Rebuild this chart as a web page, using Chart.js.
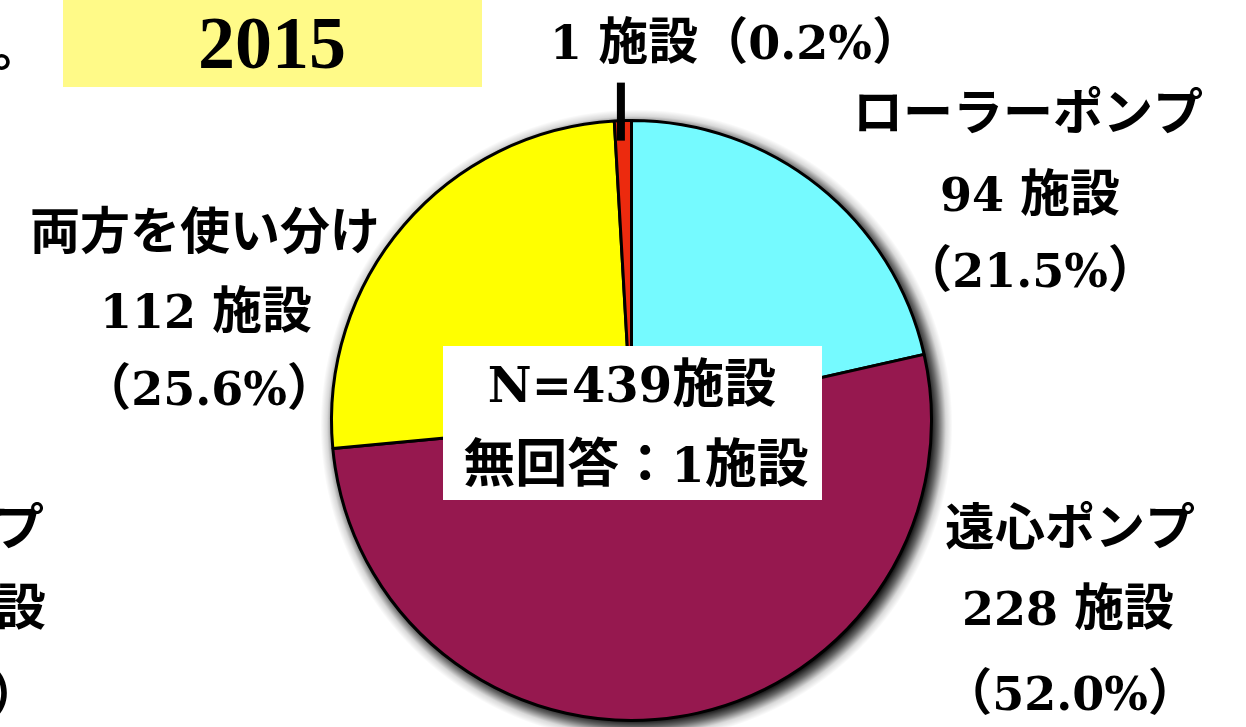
<!DOCTYPE html>
<html>
<head>
<meta charset="utf-8">
<script src="https://cdn.jsdelivr.net/npm/chart.js@4.4.0/dist/chart.umd.min.js"></script>
<style>
  html, body { margin: 0; padding: 0; background: #fff; }
  #wrap { position: relative; width: 1246px; height: 727px; }
</style>
</head>
<body>
<div id="wrap"><canvas id="pumpPie" width="1246" height="727"></canvas></div>
<script>
// data (clockwise from 12 o'clock)
const categories = ['ローラーポンプ', '遠心ポンプ', '両方を使い分け', ''];
const counts = [94, 228, 112, 1];
const percents = ['21.5', '52.0', '25.6', '0.2'];
// drawn wedge sizes; the small red wedge is drawn wider than its count in the original
const sliceValues = [94, 228, 112, 4];
const sliceColors = ['#75FAFF', '#96184F', '#FFFF00', '#EC2A0E'];
const totalN = 439;
const noAnswer = 1;
const yearLabel = '2015';

const LATIN_FONT = "bold 46px 'DejaVu Serif', serif";
const CJK_FONT = "bold 50px 'Noto Sans CJK JP', sans-serif";
const isCJK = ch => /[\u3000-\u30ff\u4e00-\u9fff\uff00-\uffef]/.test(ch);

// split text into runs so latin and CJK get their own font
function runsOf(text) {
    const runs = [];
    for (const ch of text) {
        const cjk = isCJK(ch);
        if (runs.length && runs[runs.length - 1].cjk === cjk) runs[runs.length - 1].t += ch;
        else runs.push({ t: ch, cjk: cjk });
    }
    return runs;
}

function drawMixed(ctx, text, cx, baseline, latinFont, cjkFont) {
    const runs = runsOf(text);
    let total = 0;
    runs.forEach(r => {
        ctx.font = r.cjk ? cjkFont : latinFont;
        r.w = ctx.measureText(r.t).width;
        total += r.w;
    });
    let x = cx - total / 2;
    ctx.textAlign = 'left';
    ctx.textBaseline = 'alphabetic';
    runs.forEach(r => {
        ctx.font = r.cjk ? cjkFont : latinFont;
        ctx.fillText(r.t, x, baseline);
        x += r.w;
    });
}

// soft dark shadow behind the whole pie (radial fade, offset down-right)
const pieShadow = {
    id: 'pieShadow',
    beforeDatasetsDraw(chart) {
        const arc = chart.getDatasetMeta(0).data[0];
        const ctx = chart.ctx;
        const r = arc.outerRadius;
        const sx = arc.x + 5, sy = arc.y + 5;
        ctx.save();
        const g = ctx.createRadialGradient(sx, sy, r - 6, sx, sy, r + 16);
        g.addColorStop(0, 'rgba(0,0,0,0.95)');
        g.addColorStop(0.35, 'rgba(0,0,0,0.6)');
        g.addColorStop(0.7, 'rgba(0,0,0,0.15)');
        g.addColorStop(1, 'rgba(0,0,0,0)');
        ctx.beginPath();
        ctx.arc(sx, sy, r + 16, 0, Math.PI * 2);
        ctx.fillStyle = g;
        ctx.fill();
        ctx.beginPath();
        ctx.arc(arc.x, arc.y, r, 0, Math.PI * 2);
        ctx.fillStyle = '#000';
        ctx.fill();
        ctx.restore();
    }
};

const annotations = {
    id: 'annotations',
    afterDraw(chart) {
        const ctx = chart.ctx;
        const meta = chart.getDatasetMeta(0);
        ctx.save();

        // year box
        ctx.fillStyle = '#FFFA88';
        ctx.fillRect(63, 0, 419, 87);
        ctx.fillStyle = '#000';
        ctx.font = "bold 74px 'Liberation Serif', serif";
        ctx.textAlign = 'center';
        ctx.textBaseline = 'alphabetic';
        ctx.fillText(yearLabel, 272, 68);

        // leader line to the small wedge
        const red = meta.data[3];
        const mid = (red.startAngle + red.endAngle) / 2;
        const lx = red.x + Math.cos(mid) * red.outerRadius;
        const ly = red.y + Math.sin(mid) * red.outerRadius;
        ctx.fillRect(lx - 6, ly - 38, 8, 58);

        const lab = i => counts[i] + ' 施設';
        const pct = i => '（' + percents[i] + '%）';

        // top small wedge label
        drawMixed(ctx, lab(3) + pct(3), 736, 59, LATIN_FONT, CJK_FONT);

        // ローラーポンプ
        drawMixed(ctx, categories[0], 1028, 130, LATIN_FONT, CJK_FONT);
        drawMixed(ctx, lab(0), 1030, 211, LATIN_FONT, CJK_FONT);
        drawMixed(ctx, pct(0), 1030, 287, LATIN_FONT, CJK_FONT);

        // 両方を使い分け
        drawMixed(ctx, categories[2], 205, 249, LATIN_FONT, CJK_FONT);
        drawMixed(ctx, lab(2), 206, 328, LATIN_FONT, CJK_FONT);
        drawMixed(ctx, pct(2), 209, 405, LATIN_FONT, CJK_FONT);

        // 遠心ポンプ
        drawMixed(ctx, categories[1], 1070, 545, LATIN_FONT, CJK_FONT);
        drawMixed(ctx, lab(1), 1068, 625, LATIN_FONT, CJK_FONT);
        drawMixed(ctx, pct(1), 1070, 710, LATIN_FONT, CJK_FONT);

        // N box in the middle
        ctx.fillStyle = '#fff';
        ctx.fillRect(443, 346, 379, 154);
        ctx.fillStyle = '#000';
        const bigLatin = "bold 48px 'DejaVu Serif', serif";
        const bigCjk = "bold 52px 'Noto Sans CJK JP', sans-serif";
        drawMixed(ctx, 'N=' + totalN + '施設', 632, 402, bigLatin, bigCjk);
        drawMixed(ctx, '無回答：' + noAnswer + '施設', 636, 482, bigLatin, bigCjk);

        // cut-off text of the neighbouring chart at the left edge
        ctx.font = CJK_FONT;
        ctx.textAlign = 'left';
        ctx.fillText('。', -8, 66);
        ctx.textAlign = 'right';
        ctx.fillText('ンプ', 44, 545);
        ctx.fillText('施設', 46, 625);
        ctx.textAlign = 'left';
        ctx.fillText('）', -10, 712);
        ctx.restore();
    }
};

new Chart(document.getElementById('pumpPie'), {
    type: 'pie',
    data: {
        labels: categories,
        datasets: [{
            data: sliceValues,
            backgroundColor: sliceColors,
            borderColor: '#000',
            borderWidth: 3,
            hoverOffset: 0
        }]
    },
    options: {
        responsive: false,
        animation: false,
        radius: 300,
        layout: { padding: { left: 17, right: 0, top: 114, bottom: 0 } },
        plugins: {
            legend: { display: false },
            tooltip: { enabled: false }
        }
    },
    plugins: [pieShadow, annotations]
});
</script>
</body>
</html>
